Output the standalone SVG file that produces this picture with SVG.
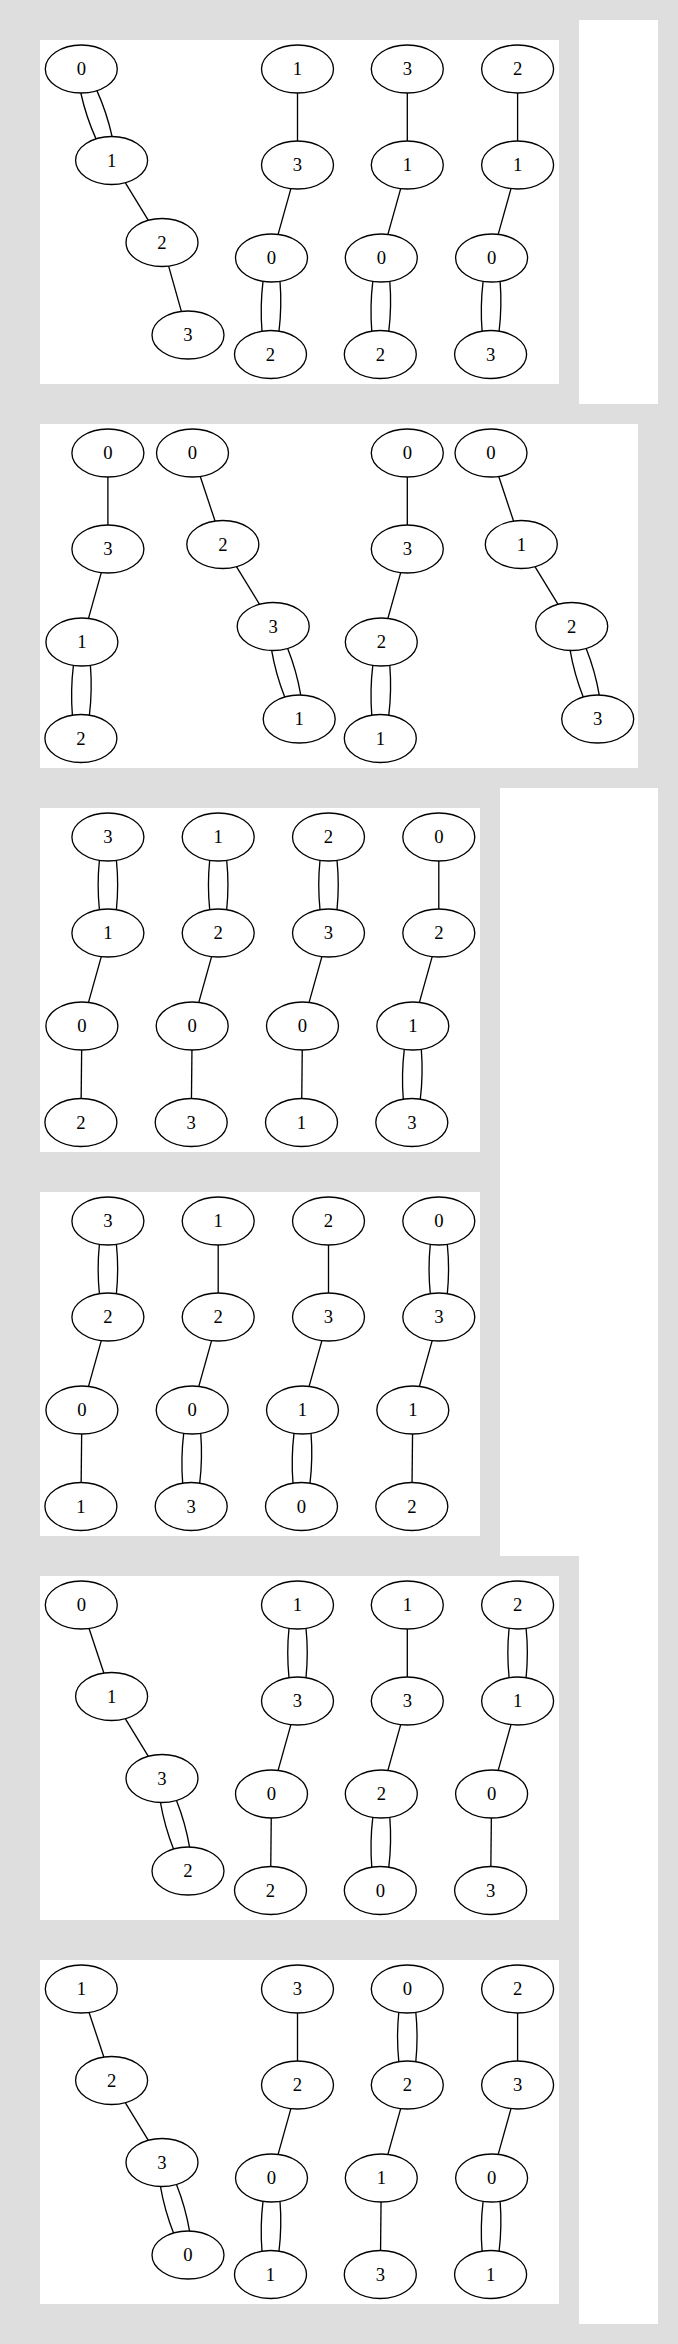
<svg xmlns="http://www.w3.org/2000/svg" width="678" height="2344" viewBox="0 0 678 2344">
<style>
.bg{fill:#dedede}
.pn{fill:#ffffff}
.node ellipse{fill:none;stroke:#000;stroke-width:1.33}
.node text{font-family:"Liberation Serif","Times New Roman",serif;font-size:18.67px;text-anchor:middle;fill:#000}
#edges path{fill:none;stroke:#000;stroke-width:1.33}
</style>
<rect class="bg" x="0" y="0" width="678" height="2344"/>
<rect class="pn" x="579" y="20" width="79" height="384"/>
<rect class="pn" x="500" y="788" width="158" height="1536"/>
<rect class="bg" x="20" y="1556" width="559" height="768"/>
<rect class="pn" x="40" y="40" width="519" height="344"/>
<rect class="pn" x="40" y="424" width="598" height="344"/>
<rect class="pn" x="40" y="808" width="440" height="344"/>
<rect class="pn" x="40" y="1192" width="440" height="344"/>
<rect class="pn" x="40" y="1576" width="519" height="344"/>
<rect class="pn" x="40" y="1960" width="519" height="344"/>
<g id="edges">
<!-- panel 1 -->
<path d="M96.9,90.64 Q106.86,112.78 112.08,136.5"/>
<path d="M80.82,93 Q86.05,116.72 96.01,138.86"/>
<path d="M125.25,182.71 L148.35,220.29"/>
<path d="M168.63,266.09 L181.37,311.41"/>
<path d="M297.5,93 L297.5,141"/>
<path d="M290.9,188.6 L278.1,234.4"/>
<path d="M263,281.3 Q260,306.25 262,331.2"/>
<path d="M280,281.3 Q282,306.25 279,331.2"/>
<path d="M407.3,93 L407.3,141"/>
<path d="M400.7,188.6 L387.9,234.4"/>
<path d="M372.8,281.3 Q369.8,306.25 371.8,331.2"/>
<path d="M389.8,281.3 Q391.8,306.25 388.8,331.2"/>
<path d="M517.6,93 L517.6,141"/>
<path d="M511,188.6 L498.2,234.4"/>
<path d="M483.1,281.3 Q480.1,306.25 482.1,331.2"/>
<path d="M500.1,281.3 Q502.1,306.25 499.1,331.2"/>
<!-- panel 2 -->
<path d="M107.9,477 L107.9,525"/>
<path d="M101.3,572.6 L88.5,618.4"/>
<path d="M73.4,665.3 Q70.4,690.25 72.4,715.2"/>
<path d="M90.4,665.3 Q92.4,690.25 89.4,715.2"/>
<path d="M200.26,476.43 L215.04,521.07"/>
<path d="M236.45,566.71 L259.55,604.29"/>
<path d="M287.68,648.47 Q296.64,671.07 300.77,695.02"/>
<path d="M271.63,650.48 Q275.77,674.43 284.72,697.03"/>
<path d="M407.3,477 L407.3,525"/>
<path d="M400.7,572.6 L387.9,618.4"/>
<path d="M372.8,665.3 Q369.8,690.25 371.8,715.2"/>
<path d="M389.8,665.3 Q391.8,690.25 388.8,715.2"/>
<path d="M498.76,476.43 L513.54,521.07"/>
<path d="M534.95,566.71 L558.05,604.29"/>
<path d="M586.18,648.47 Q595.14,671.07 599.27,695.02"/>
<path d="M570.13,650.48 Q574.27,674.43 583.22,697.03"/>
<!-- panel 3 -->
<path d="M99.4,860.3 Q96.9,885 99.4,909.7"/>
<path d="M116.4,860.3 Q118.9,885 116.4,909.7"/>
<path d="M101.3,956.6 L88.5,1002.4"/>
<path d="M81.65,1050 L81.15,1098.5"/>
<path d="M209.7,860.3 Q207.2,885 209.7,909.7"/>
<path d="M226.7,860.3 Q229.2,885 226.7,909.7"/>
<path d="M211.6,956.6 L198.8,1002.4"/>
<path d="M191.95,1050 L191.45,1098.5"/>
<path d="M320,860.3 Q317.5,885 320,909.7"/>
<path d="M337,860.3 Q339.5,885 337,909.7"/>
<path d="M321.9,956.6 L309.1,1002.4"/>
<path d="M302.25,1050 L301.75,1098.5"/>
<path d="M438.8,861 L438.8,909"/>
<path d="M432.2,956.6 L419.4,1002.4"/>
<path d="M404.3,1049.3 Q401.3,1074.25 403.3,1099.2"/>
<path d="M421.3,1049.3 Q423.3,1074.25 420.3,1099.2"/>
<!-- panel 4 -->
<path d="M99.4,1244.3 Q96.9,1269 99.4,1293.7"/>
<path d="M116.4,1244.3 Q118.9,1269 116.4,1293.7"/>
<path d="M101.3,1340.6 L88.5,1386.4"/>
<path d="M81.65,1434 L81.15,1482.5"/>
<path d="M218.2,1245 L218.2,1293"/>
<path d="M211.6,1340.6 L198.8,1386.4"/>
<path d="M183.7,1433.3 Q180.7,1458.25 182.7,1483.2"/>
<path d="M200.7,1433.3 Q202.7,1458.25 199.7,1483.2"/>
<path d="M328.5,1245 L328.5,1293"/>
<path d="M321.9,1340.6 L309.1,1386.4"/>
<path d="M294,1433.3 Q291,1458.25 293,1483.2"/>
<path d="M311,1433.3 Q313,1458.25 310,1483.2"/>
<path d="M430.3,1244.3 Q427.8,1269 430.3,1293.7"/>
<path d="M447.3,1244.3 Q449.8,1269 447.3,1293.7"/>
<path d="M432.2,1340.6 L419.4,1386.4"/>
<path d="M412.55,1434 L412.05,1482.5"/>
<!-- panel 5 -->
<path d="M89.06,1628.43 L103.84,1673.07"/>
<path d="M125.25,1718.71 L148.35,1756.29"/>
<path d="M176.48,1800.47 Q185.44,1823.07 189.57,1847.02"/>
<path d="M160.43,1802.48 Q164.57,1826.43 173.52,1849.03"/>
<path d="M289,1628.3 Q286.5,1653 289,1677.7"/>
<path d="M306,1628.3 Q308.5,1653 306,1677.7"/>
<path d="M290.9,1724.6 L278.1,1770.4"/>
<path d="M271.25,1818 L270.75,1866.5"/>
<path d="M407.3,1629 L407.3,1677"/>
<path d="M400.7,1724.6 L387.9,1770.4"/>
<path d="M372.8,1817.3 Q369.8,1842.25 371.8,1867.2"/>
<path d="M389.8,1817.3 Q391.8,1842.25 388.8,1867.2"/>
<path d="M509.1,1628.3 Q506.6,1653 509.1,1677.7"/>
<path d="M526.1,1628.3 Q528.6,1653 526.1,1677.7"/>
<path d="M511,1724.6 L498.2,1770.4"/>
<path d="M491.35,1818 L490.85,1866.5"/>
<!-- panel 6 -->
<path d="M89.06,2012.43 L103.84,2057.07"/>
<path d="M125.25,2102.71 L148.35,2140.29"/>
<path d="M176.48,2184.47 Q185.44,2207.07 189.57,2231.02"/>
<path d="M160.43,2186.48 Q164.57,2210.43 173.52,2233.03"/>
<path d="M297.5,2013 L297.5,2061"/>
<path d="M290.9,2108.6 L278.1,2154.4"/>
<path d="M263,2201.3 Q260,2226.25 262,2251.2"/>
<path d="M280,2201.3 Q282,2226.25 279,2251.2"/>
<path d="M398.8,2012.3 Q396.3,2037 398.8,2061.7"/>
<path d="M415.8,2012.3 Q418.3,2037 415.8,2061.7"/>
<path d="M400.7,2108.6 L387.9,2154.4"/>
<path d="M381.05,2202 L380.55,2250.5"/>
<path d="M517.6,2013 L517.6,2061"/>
<path d="M511,2108.6 L498.2,2154.4"/>
<path d="M483.1,2201.3 Q480.1,2226.25 482.1,2251.2"/>
<path d="M500.1,2201.3 Q502.1,2226.25 499.1,2251.2"/>
</g>
<!-- panel 1 nodes -->
<g id="p1a0" class="node"><ellipse cx="81.3" cy="69" rx="36" ry="24"/><text x="81.3" y="75">0</text></g>
<g id="p1a1" class="node"><ellipse cx="111.6" cy="160.5" rx="36" ry="24"/><text x="111.6" y="166.5">1</text></g>
<g id="p1a2" class="node"><ellipse cx="162" cy="242.5" rx="36" ry="24"/><text x="162" y="248.5">2</text></g>
<g id="p1a3" class="node"><ellipse cx="188" cy="335" rx="36" ry="24"/><text x="188" y="341">3</text></g>
<g id="p1b1" class="node"><ellipse cx="297.5" cy="69" rx="36" ry="24"/><text x="297.5" y="75">1</text></g>
<g id="p1b3" class="node"><ellipse cx="297.5" cy="165" rx="36" ry="24"/><text x="297.5" y="171">3</text></g>
<g id="p1b0" class="node"><ellipse cx="271.5" cy="258" rx="36" ry="24"/><text x="271.5" y="264">0</text></g>
<g id="p1b2" class="node"><ellipse cx="270.5" cy="354.5" rx="36" ry="24"/><text x="270.5" y="360.5">2</text></g>
<g id="p1c3" class="node"><ellipse cx="407.3" cy="69" rx="36" ry="24"/><text x="407.3" y="75">3</text></g>
<g id="p1c1" class="node"><ellipse cx="407.3" cy="165" rx="36" ry="24"/><text x="407.3" y="171">1</text></g>
<g id="p1c0" class="node"><ellipse cx="381.3" cy="258" rx="36" ry="24"/><text x="381.3" y="264">0</text></g>
<g id="p1c2" class="node"><ellipse cx="380.3" cy="354.5" rx="36" ry="24"/><text x="380.3" y="360.5">2</text></g>
<g id="p1d2" class="node"><ellipse cx="517.6" cy="69" rx="36" ry="24"/><text x="517.6" y="75">2</text></g>
<g id="p1d1" class="node"><ellipse cx="517.6" cy="165" rx="36" ry="24"/><text x="517.6" y="171">1</text></g>
<g id="p1d0" class="node"><ellipse cx="491.6" cy="258" rx="36" ry="24"/><text x="491.6" y="264">0</text></g>
<g id="p1d3" class="node"><ellipse cx="490.6" cy="354.5" rx="36" ry="24"/><text x="490.6" y="360.5">3</text></g>
<!-- panel 2 nodes -->
<g id="p2a0" class="node"><ellipse cx="107.9" cy="453" rx="36" ry="24"/><text x="107.9" y="459">0</text></g>
<g id="p2a3" class="node"><ellipse cx="107.9" cy="549" rx="36" ry="24"/><text x="107.9" y="555">3</text></g>
<g id="p2a1" class="node"><ellipse cx="81.9" cy="642" rx="36" ry="24"/><text x="81.9" y="648">1</text></g>
<g id="p2a2" class="node"><ellipse cx="80.9" cy="738.5" rx="36" ry="24"/><text x="80.9" y="744.5">2</text></g>
<g id="p2b0" class="node"><ellipse cx="192.5" cy="453" rx="36" ry="24"/><text x="192.5" y="459">0</text></g>
<g id="p2b2" class="node"><ellipse cx="222.8" cy="544.5" rx="36" ry="24"/><text x="222.8" y="550.5">2</text></g>
<g id="p2b3" class="node"><ellipse cx="273.2" cy="626.5" rx="36" ry="24"/><text x="273.2" y="632.5">3</text></g>
<g id="p2b1" class="node"><ellipse cx="299.2" cy="719" rx="36" ry="24"/><text x="299.2" y="725">1</text></g>
<g id="p2c0" class="node"><ellipse cx="407.3" cy="453" rx="36" ry="24"/><text x="407.3" y="459">0</text></g>
<g id="p2c3" class="node"><ellipse cx="407.3" cy="549" rx="36" ry="24"/><text x="407.3" y="555">3</text></g>
<g id="p2c2" class="node"><ellipse cx="381.3" cy="642" rx="36" ry="24"/><text x="381.3" y="648">2</text></g>
<g id="p2c1" class="node"><ellipse cx="380.3" cy="738.5" rx="36" ry="24"/><text x="380.3" y="744.5">1</text></g>
<g id="p2d0" class="node"><ellipse cx="491" cy="453" rx="36" ry="24"/><text x="491" y="459">0</text></g>
<g id="p2d1" class="node"><ellipse cx="521.3" cy="544.5" rx="36" ry="24"/><text x="521.3" y="550.5">1</text></g>
<g id="p2d2" class="node"><ellipse cx="571.7" cy="626.5" rx="36" ry="24"/><text x="571.7" y="632.5">2</text></g>
<g id="p2d3" class="node"><ellipse cx="597.7" cy="719" rx="36" ry="24"/><text x="597.7" y="725">3</text></g>
<!-- panel 3 nodes -->
<g id="p3a3" class="node"><ellipse cx="107.9" cy="837" rx="36" ry="24"/><text x="107.9" y="843">3</text></g>
<g id="p3a1" class="node"><ellipse cx="107.9" cy="933" rx="36" ry="24"/><text x="107.9" y="939">1</text></g>
<g id="p3a0" class="node"><ellipse cx="81.9" cy="1026" rx="36" ry="24"/><text x="81.9" y="1032">0</text></g>
<g id="p3a2" class="node"><ellipse cx="80.9" cy="1122.5" rx="36" ry="24"/><text x="80.9" y="1128.5">2</text></g>
<g id="p3b1" class="node"><ellipse cx="218.2" cy="837" rx="36" ry="24"/><text x="218.2" y="843">1</text></g>
<g id="p3b2" class="node"><ellipse cx="218.2" cy="933" rx="36" ry="24"/><text x="218.2" y="939">2</text></g>
<g id="p3b0" class="node"><ellipse cx="192.2" cy="1026" rx="36" ry="24"/><text x="192.2" y="1032">0</text></g>
<g id="p3b3" class="node"><ellipse cx="191.2" cy="1122.5" rx="36" ry="24"/><text x="191.2" y="1128.5">3</text></g>
<g id="p3c2" class="node"><ellipse cx="328.5" cy="837" rx="36" ry="24"/><text x="328.5" y="843">2</text></g>
<g id="p3c3" class="node"><ellipse cx="328.5" cy="933" rx="36" ry="24"/><text x="328.5" y="939">3</text></g>
<g id="p3c0" class="node"><ellipse cx="302.5" cy="1026" rx="36" ry="24"/><text x="302.5" y="1032">0</text></g>
<g id="p3c1" class="node"><ellipse cx="301.5" cy="1122.5" rx="36" ry="24"/><text x="301.5" y="1128.5">1</text></g>
<g id="p3d0" class="node"><ellipse cx="438.8" cy="837" rx="36" ry="24"/><text x="438.8" y="843">0</text></g>
<g id="p3d2" class="node"><ellipse cx="438.8" cy="933" rx="36" ry="24"/><text x="438.8" y="939">2</text></g>
<g id="p3d1" class="node"><ellipse cx="412.8" cy="1026" rx="36" ry="24"/><text x="412.8" y="1032">1</text></g>
<g id="p3d3" class="node"><ellipse cx="411.8" cy="1122.5" rx="36" ry="24"/><text x="411.8" y="1128.5">3</text></g>
<!-- panel 4 nodes -->
<g id="p4a3" class="node"><ellipse cx="107.9" cy="1221" rx="36" ry="24"/><text x="107.9" y="1227">3</text></g>
<g id="p4a2" class="node"><ellipse cx="107.9" cy="1317" rx="36" ry="24"/><text x="107.9" y="1323">2</text></g>
<g id="p4a0" class="node"><ellipse cx="81.9" cy="1410" rx="36" ry="24"/><text x="81.9" y="1416">0</text></g>
<g id="p4a1" class="node"><ellipse cx="80.9" cy="1506.5" rx="36" ry="24"/><text x="80.9" y="1512.5">1</text></g>
<g id="p4b1" class="node"><ellipse cx="218.2" cy="1221" rx="36" ry="24"/><text x="218.2" y="1227">1</text></g>
<g id="p4b2" class="node"><ellipse cx="218.2" cy="1317" rx="36" ry="24"/><text x="218.2" y="1323">2</text></g>
<g id="p4b0" class="node"><ellipse cx="192.2" cy="1410" rx="36" ry="24"/><text x="192.2" y="1416">0</text></g>
<g id="p4b3" class="node"><ellipse cx="191.2" cy="1506.5" rx="36" ry="24"/><text x="191.2" y="1512.5">3</text></g>
<g id="p4c2" class="node"><ellipse cx="328.5" cy="1221" rx="36" ry="24"/><text x="328.5" y="1227">2</text></g>
<g id="p4c3" class="node"><ellipse cx="328.5" cy="1317" rx="36" ry="24"/><text x="328.5" y="1323">3</text></g>
<g id="p4c1" class="node"><ellipse cx="302.5" cy="1410" rx="36" ry="24"/><text x="302.5" y="1416">1</text></g>
<g id="p4c0" class="node"><ellipse cx="301.5" cy="1506.5" rx="36" ry="24"/><text x="301.5" y="1512.5">0</text></g>
<g id="p4d0" class="node"><ellipse cx="438.8" cy="1221" rx="36" ry="24"/><text x="438.8" y="1227">0</text></g>
<g id="p4d3" class="node"><ellipse cx="438.8" cy="1317" rx="36" ry="24"/><text x="438.8" y="1323">3</text></g>
<g id="p4d1" class="node"><ellipse cx="412.8" cy="1410" rx="36" ry="24"/><text x="412.8" y="1416">1</text></g>
<g id="p4d2" class="node"><ellipse cx="411.8" cy="1506.5" rx="36" ry="24"/><text x="411.8" y="1512.5">2</text></g>
<!-- panel 5 nodes -->
<g id="p5a0" class="node"><ellipse cx="81.3" cy="1605" rx="36" ry="24"/><text x="81.3" y="1611">0</text></g>
<g id="p5a1" class="node"><ellipse cx="111.6" cy="1696.5" rx="36" ry="24"/><text x="111.6" y="1702.5">1</text></g>
<g id="p5a3" class="node"><ellipse cx="162" cy="1778.5" rx="36" ry="24"/><text x="162" y="1784.5">3</text></g>
<g id="p5a2" class="node"><ellipse cx="188" cy="1871" rx="36" ry="24"/><text x="188" y="1877">2</text></g>
<g id="p5b1" class="node"><ellipse cx="297.5" cy="1605" rx="36" ry="24"/><text x="297.5" y="1611">1</text></g>
<g id="p5b3" class="node"><ellipse cx="297.5" cy="1701" rx="36" ry="24"/><text x="297.5" y="1707">3</text></g>
<g id="p5b0" class="node"><ellipse cx="271.5" cy="1794" rx="36" ry="24"/><text x="271.5" y="1800">0</text></g>
<g id="p5b2" class="node"><ellipse cx="270.5" cy="1890.5" rx="36" ry="24"/><text x="270.5" y="1896.5">2</text></g>
<g id="p5c1" class="node"><ellipse cx="407.3" cy="1605" rx="36" ry="24"/><text x="407.3" y="1611">1</text></g>
<g id="p5c3" class="node"><ellipse cx="407.3" cy="1701" rx="36" ry="24"/><text x="407.3" y="1707">3</text></g>
<g id="p5c2" class="node"><ellipse cx="381.3" cy="1794" rx="36" ry="24"/><text x="381.3" y="1800">2</text></g>
<g id="p5c0" class="node"><ellipse cx="380.3" cy="1890.5" rx="36" ry="24"/><text x="380.3" y="1896.5">0</text></g>
<g id="p5d2" class="node"><ellipse cx="517.6" cy="1605" rx="36" ry="24"/><text x="517.6" y="1611">2</text></g>
<g id="p5d1" class="node"><ellipse cx="517.6" cy="1701" rx="36" ry="24"/><text x="517.6" y="1707">1</text></g>
<g id="p5d0" class="node"><ellipse cx="491.6" cy="1794" rx="36" ry="24"/><text x="491.6" y="1800">0</text></g>
<g id="p5d3" class="node"><ellipse cx="490.6" cy="1890.5" rx="36" ry="24"/><text x="490.6" y="1896.5">3</text></g>
<!-- panel 6 nodes -->
<g id="p6a1" class="node"><ellipse cx="81.3" cy="1989" rx="36" ry="24"/><text x="81.3" y="1995">1</text></g>
<g id="p6a2" class="node"><ellipse cx="111.6" cy="2080.5" rx="36" ry="24"/><text x="111.6" y="2086.5">2</text></g>
<g id="p6a3" class="node"><ellipse cx="162" cy="2162.5" rx="36" ry="24"/><text x="162" y="2168.5">3</text></g>
<g id="p6a0" class="node"><ellipse cx="188" cy="2255" rx="36" ry="24"/><text x="188" y="2261">0</text></g>
<g id="p6b3" class="node"><ellipse cx="297.5" cy="1989" rx="36" ry="24"/><text x="297.5" y="1995">3</text></g>
<g id="p6b2" class="node"><ellipse cx="297.5" cy="2085" rx="36" ry="24"/><text x="297.5" y="2091">2</text></g>
<g id="p6b0" class="node"><ellipse cx="271.5" cy="2178" rx="36" ry="24"/><text x="271.5" y="2184">0</text></g>
<g id="p6b1" class="node"><ellipse cx="270.5" cy="2274.5" rx="36" ry="24"/><text x="270.5" y="2280.5">1</text></g>
<g id="p6c0" class="node"><ellipse cx="407.3" cy="1989" rx="36" ry="24"/><text x="407.3" y="1995">0</text></g>
<g id="p6c2" class="node"><ellipse cx="407.3" cy="2085" rx="36" ry="24"/><text x="407.3" y="2091">2</text></g>
<g id="p6c1" class="node"><ellipse cx="381.3" cy="2178" rx="36" ry="24"/><text x="381.3" y="2184">1</text></g>
<g id="p6c3" class="node"><ellipse cx="380.3" cy="2274.5" rx="36" ry="24"/><text x="380.3" y="2280.5">3</text></g>
<g id="p6d2" class="node"><ellipse cx="517.6" cy="1989" rx="36" ry="24"/><text x="517.6" y="1995">2</text></g>
<g id="p6d3" class="node"><ellipse cx="517.6" cy="2085" rx="36" ry="24"/><text x="517.6" y="2091">3</text></g>
<g id="p6d0" class="node"><ellipse cx="491.6" cy="2178" rx="36" ry="24"/><text x="491.6" y="2184">0</text></g>
<g id="p6d1" class="node"><ellipse cx="490.6" cy="2274.5" rx="36" ry="24"/><text x="490.6" y="2280.5">1</text></g>
</svg>
